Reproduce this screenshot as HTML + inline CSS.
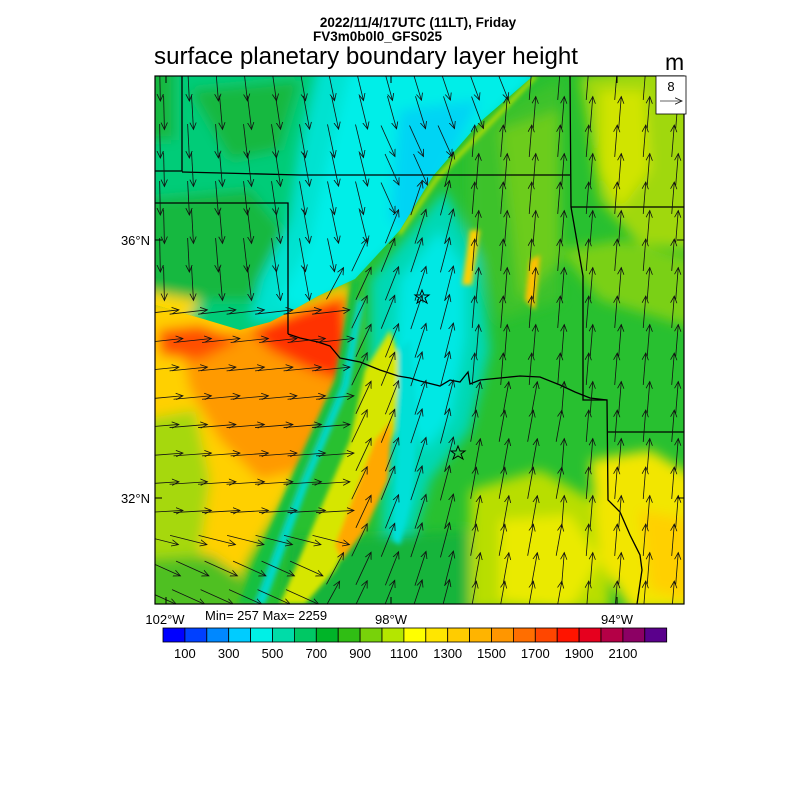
<!DOCTYPE html>
<html><head><meta charset="utf-8"><style>
body{margin:0;background:#fff;}
svg{display:block;font-family:"Liberation Sans",sans-serif;}
</style></head><body>
<svg id="s" width="800" height="800" viewBox="0 0 800 800" xmlns="http://www.w3.org/2000/svg">
<defs>
<clipPath id="c"><rect x="155" y="76" width="529" height="528"/></clipPath>
<clipPath id="cold"><polygon points="155,76 533,76 480,122 433,176 400,230 355,279 318,296 295,309 270,322 240,330 200,318 155,305"/></clipPath>
<clipPath id="warm"><polygon points="533,76 684,76 684,604 155,604 155,305 200,318 240,330 270,322 295,309 318,296 355,279 400,230 433,176 480,122"/></clipPath>
<filter id="b" x="-10%" y="-10%" width="120%" height="120%"><feGaussianBlur stdDeviation="6"/></filter>
<filter id="b2"><feGaussianBlur stdDeviation="2.5"/></filter>
<marker id="ah" markerWidth="8" markerHeight="8" refX="7" refY="4" orient="auto" markerUnits="userSpaceOnUse"><path d="M0,0.8 L7,4 L0,7.2" fill="none" stroke="#111" stroke-width="0.8"/></marker>
</defs>
<text x="418" y="27" font-size="13.5" font-weight="bold" text-anchor="middle">2022/11/4/17UTC (11LT), Friday</text>
<text x="313" y="41" font-size="13.5" font-weight="bold">FV3m0b0l0_GFS025</text>
<text x="154" y="64" font-size="24" textLength="424" lengthAdjust="spacingAndGlyphs">surface planetary boundary layer height</text>
<text x="665" y="70" font-size="23">m</text>
<g clip-path="url(#c)">
<rect x="155" y="76" width="529" height="528" fill="#28c030"/>
<g clip-path="url(#cold)"><g filter="url(#b)">
<rect x="140" y="60" width="420" height="300" fill="#00cc78"/>
<polygon points="190,90 300,80 280,150 230,160" fill="#14b840"/>
<polygon points="140,200 250,190 300,250 270,300 140,300" fill="#14b840"/>
<polygon points="140,60 175,60 175,140 140,140" fill="#14b840"/>
<polygon points="320,60 560,60 480,130 420,210 360,280 300,320 250,320 260,280 290,220 300,150" fill="#00e2d0"/>
<polygon points="350,70 540,70 470,140 410,230 350,290 300,310 280,300 310,240 330,150" fill="#00eee8"/>
<polygon points="400,110 480,100 440,180 410,230 390,220 395,160" fill="#00d4f4"/>
<polygon points="140,290 200,300 180,330 140,330" fill="#ffd800"/>
</g></g>
<g clip-path="url(#warm)"><g filter="url(#b)">
<polygon points="140,300 300,300 350,280 352,330 342,373 320,420 300,470 280,510 250,560 230,610 140,610" fill="#ffd000"/>
<polygon points="180,340 300,320 345,300 345,370 325,420 300,470 260,480 220,440 190,390" fill="#ff9a00"/>
<polygon points="250,330 300,310 345,295 348,340 340,380 310,370 270,350" fill="#ff3200"/>
<polygon points="158,330 200,325 240,340 200,360 160,355" fill="#ff5000"/>
<polygon points="140,420 195,410 210,480 195,590 140,590" fill="#a6d80a"/>
<polygon points="140,560 210,555 260,590 250,620 140,620" fill="#50c020"/>
<polygon points="470,130 520,100 560,80 560,300 500,320 470,230" fill="#3cc22a"/>
<polygon points="500,130 560,110 560,260 520,300" fill="#6ccc1a"/>
<polygon points="370,280 420,220 445,190 480,260 490,350 470,430 430,480 410,550 380,560 385,440 370,360" fill="#00d8b4"/>
<polygon points="400,280 440,230 465,270 465,340 450,420 425,450 405,420 395,350" fill="#00e8e4"/>
<polygon points="580,76 700,60 700,250 640,245 600,200" fill="#a0d80a"/>
<polygon points="600,90 645,90 650,170 620,210 600,170" fill="#d0e400"/>
<polygon points="560,250 620,240 700,260 700,330 600,300" fill="#7ad018"/>
<polygon points="290,540 480,530 480,620 280,620" fill="#18b43a"/>
<polygon points="470,490 540,470 610,510 610,610 470,610" fill="#b8de06"/>
<polygon points="500,520 570,515 600,560 570,610 500,600" fill="#eaea00"/>
<polygon points="590,460 650,450 700,480 700,610 630,610 600,560" fill="#f2e600"/>
<polygon points="640,510 690,520 690,600 650,590" fill="#ffd000"/>
</g>
<g filter="url(#b2)">
<polygon points="352,280 360,280 345,380 305,470 255,604 238,604 295,470 335,380" fill="#14c040"/>
<polygon points="358,300 364,300 350,385 310,480 265,604 255,604 302,480 342,385" fill="#00d8c8"/>
<polygon points="365,370 390,330 400,360 395,430 375,490 335,570 305,604 280,604 320,510 350,440" fill="#d6e600"/>
<polygon points="375,440 392,420 388,480 365,530 342,560 335,545" fill="#ffa800"/>
<polygon points="398,350 410,340 418,420 412,500 400,545 392,540 398,440" fill="#00e0d8"/>
<polygon points="470,230 480,230 472,285 462,285" fill="#ffd000"/>
<polygon points="530,260 540,255 535,310 525,300" fill="#ffc000"/>
<polygon points="533,76 538,76 438,180 400,236 398,232 436,176" fill="#c0e000"/>
</g>
</g>
</g>
<g fill="none" stroke="#000" stroke-width="1.3" clip-path="url(#c)">
<polyline points="155,171 182,171 182,76"/>
<polyline points="182,172 300,175 570,175"/>
<polyline points="155,203 288,203 288,334"/>
<polyline points="288,334 300,338 318,342 330,346 340,358 360,362 380,370 398,376 410,378 420,381 440,386 450,380 460,382 468,372 470,384 480,380 500,378 520,376 540,377 560,385 575,392 590,398 607,400"/>
<polyline points="570,76 571,207 583,276 583,400 607,400 608,500 620,512 630,535 640,555 642,570 637,604"/>
<polyline points="571,207 684,207"/>
<polyline points="608,432 684,432"/>
</g>
<polygon points="422,290 424,295 429,295 425,298 427,303 422,300 417,303 419,298 415,295 420,295" fill="none" stroke="#000" stroke-width="1"/>
<polygon points="458,446 460,451 465,451 461,454 463,459 458,456 453,459 455,454 451,451 456,451" fill="none" stroke="#000" stroke-width="1"/>
<g id="arrows" clip-path="url(#c)" stroke="#111" stroke-width="0.8" fill="none"></g>
<rect x="155" y="76" width="529" height="528" fill="none" stroke="#000" stroke-width="1.2"/>
<g stroke="#000" stroke-width="1">
<line x1="155" y1="240" x2="162" y2="240"/><line x1="155" y1="498" x2="162" y2="498"/>
<line x1="684" y1="240" x2="677" y2="240"/><line x1="684" y1="498" x2="677" y2="498"/>
<line x1="166" y1="604" x2="166" y2="597"/><line x1="391" y1="604" x2="391" y2="597"/><line x1="617" y1="604" x2="617" y2="597"/>
<line x1="166" y1="76" x2="166" y2="83"/><line x1="391" y1="76" x2="391" y2="83"/><line x1="617" y1="76" x2="617" y2="83"/>
</g>
<text x="150" y="245" font-size="13" text-anchor="end">36°N</text>
<text x="150" y="503" font-size="13" text-anchor="end">32°N</text>
<text x="165" y="624" font-size="13" text-anchor="middle">102°W</text>
<text x="391" y="624" font-size="13" text-anchor="middle">98°W</text>
<text x="617" y="624" font-size="13" text-anchor="middle">94°W</text>
<text x="205" y="620" font-size="13">Min= 257 Max= 2259</text>
<rect x="656" y="76" width="30" height="38" fill="#fff" stroke="#000" stroke-width="0.8"/>
<text x="671" y="91" font-size="13" text-anchor="middle">8</text>
<line x1="660" y1="101" x2="682" y2="101" stroke="#333" stroke-width="0.8" marker-end="url(#ah)"/>
<g id="cb" stroke="#000" stroke-width="0.8"></g>
<g font-size="13" text-anchor="middle" id="cbl"></g>
</svg>
<script>
var ns="http://www.w3.org/2000/svg";
var cols=["#0000ff","#0040ff","#0088ff","#00ccff","#00f0e6","#00dca8","#00c864","#00b428","#30be14","#78d20a","#b4e600","#ffff00","#ffe600","#ffcc00","#ffb400","#ff9600","#ff6e00","#ff4600","#ff1400","#e6001e","#b40046","#8c0064","#5a008c"];
var cb=document.getElementById("cb"),w=21.9,x0=163;
cols.forEach(function(c,i){var r=document.createElementNS(ns,"rect");r.setAttribute("x",x0+i*w);r.setAttribute("y",628);r.setAttribute("width",w);r.setAttribute("height",14);r.setAttribute("fill",c);cb.appendChild(r);});
var cbl=document.getElementById("cbl");
for(var k=0;k<11;k++){var t=document.createElementNS(ns,"text");t.setAttribute("x",x0+w*(1+2*k));t.setAttribute("y",658);t.textContent=(100+200*k);cbl.appendChild(t);}
var g=document.getElementById("arrows");
function front(x){return 76+(533-x)*(220/215);}
for(var j=0;j<19;j++)for(var i=0;i<19;i++){
 var x=160+i*28.5+(j%2)*4,y=84+j*28.5;
 var dx,dy,L;
 var fy=front(x);
 if(y<fy-5 && !(x<330&&y>305)){
   dx=0.12+(x-250)/900; dy=1; L=34; if(x>380&&y>140){dx=0.45;}
 } else if(x<345 && y>300 && y<560){
   dx=1; dy=-0.12+(y-300)*0.0003; L=38; if(y>530){dy=0.25;}
 } else if(x<330 && y>=560){dx=1;dy=0.45;L=36;}
 else if(x<470){ dx=0.55-(x-330)/400; dy=-1; L=36;}
 else { dx=0.08; dy=-1; L=32; if(x<560&&y>380)dx=0.18;}
 var n=Math.hypot(dx,dy);dx=dx/n*L;dy=dy/n*L;
 var l=document.createElementNS(ns,"line");
 l.setAttribute("x1",x-dx/2);l.setAttribute("y1",y-dy/2);l.setAttribute("x2",x+dx/2);l.setAttribute("y2",y+dy/2);
 l.setAttribute("marker-end","url(#ah)");g.appendChild(l);}
</script>
</body></html>
